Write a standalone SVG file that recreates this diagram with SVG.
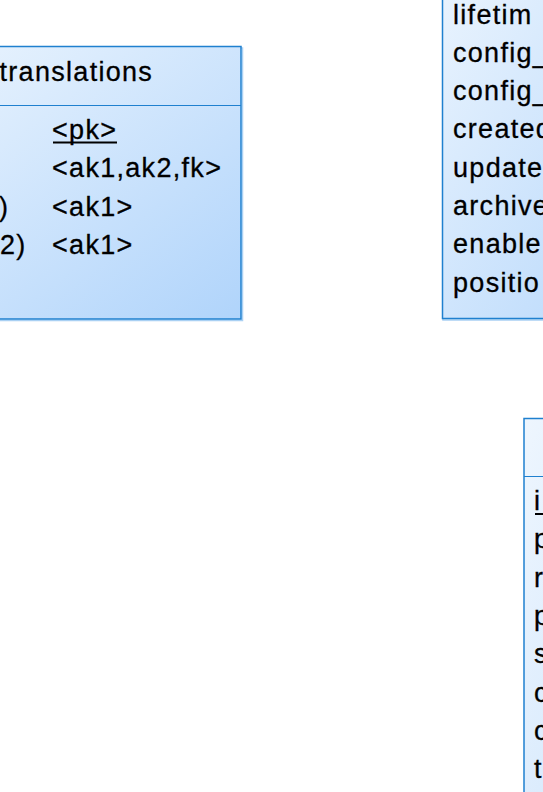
<svg xmlns="http://www.w3.org/2000/svg" width="543" height="792" viewBox="0 0 543 792">
<defs>
<linearGradient id="g1" x1="0" y1="0" x2="1" y2="1">
<stop offset="0" stop-color="#eef6fe"/>
<stop offset="1" stop-color="#b0d4fb"/>
</linearGradient>
<style>
.box{fill:url(#g1);stroke:#1f80cf;stroke-width:1.5}
.sh{fill:none;stroke:#a9d0f3;stroke-width:1.5}
.sep{stroke:#1f80cf;stroke-width:1.2;fill:none}
.t{font-family:"Liberation Sans",Arial,sans-serif;font-size:27px;letter-spacing:1.3px;fill:#000;stroke:#000;stroke-width:0.3}
.ul{stroke:#000;stroke-width:2}
</style>
</defs>
<rect width="543" height="792" fill="#fff"/>
<g id="translations">
<rect class="sh" x="-119" y="48" width="361.5" height="272.5"/>
<rect class="box" x="-120" y="46.5" width="361" height="272.5"/>
<line class="sep" x1="-120" y1="105.5" x2="241" y2="105.5"/>
<text class="t" x="-0.5" y="81">translations</text>
<text class="t" x="52" y="139">&lt;pk&gt;</text>
<line class="ul" x1="53" y1="142.5" x2="117" y2="142.5"/>
<text class="t" x="52" y="177.3">&lt;ak1,ak2,fk&gt;</text>
<text class="t" x="-1" y="215.6">)</text>
<text class="t" x="52" y="215.6">&lt;ak1&gt;</text>
<text class="t" x="0" y="253.9">2)</text>
<text class="t" x="52" y="253.9">&lt;ak1&gt;</text>
</g>
<g id="entity_right">
<rect class="sh" x="443" y="-79" width="260" height="399"/>
<rect class="box" x="442.5" y="-80" width="260" height="398.5"/>
<text class="t" x="453" y="23.5">lifetim</text>
<text class="t" x="453" y="61.8">config_</text>
<text class="t" x="453" y="100.1">config_</text>
<text class="t" x="453" y="138.4">created</text>
<text class="t" x="453" y="176.7">update</text>
<text class="t" x="453" y="215">archive</text>
<text class="t" x="453" y="253.3">enable</text>
<text class="t" x="453" y="291.6">positio</text>
</g>
<g id="entity_bottom">
<rect class="box" x="524" y="418.5" width="260" height="700"/>
<line class="sep" x1="524" y1="476.5" x2="784" y2="476.5"/>
<text class="t" x="534" y="510">i</text>
<line class="ul" x1="535" y1="514" x2="543" y2="514"/>
<text class="t" x="534" y="548.3">p</text>
<text class="t" x="534" y="586.6">r</text>
<text class="t" x="534" y="624.9">p</text>
<text class="t" x="534" y="663.2">s</text>
<text class="t" x="534" y="701.5">c</text>
<text class="t" x="534" y="739.8">c</text>
<text class="t" x="534" y="778.1">t</text>
</g>
<g id="connectors"/>
</svg>
